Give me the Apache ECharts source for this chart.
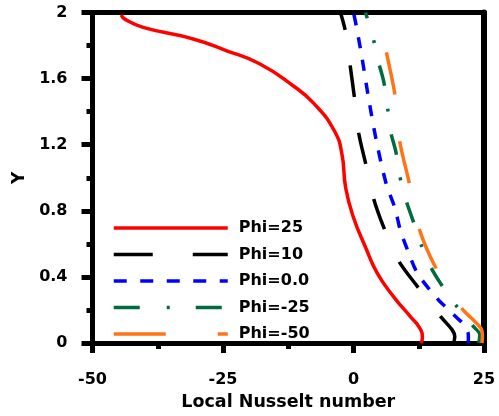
<!DOCTYPE html>
<html>
<head>
<meta charset="utf-8">
<script src="https://cdn.jsdelivr.net/npm/echarts@6/dist/echarts.min.js"></script>
<style>
  html, body { margin: 0; padding: 0; background: #ffffff; }
  #chart { width: 499px; height: 416px; }
</style>
</head>
<body>
<div id="chart"></div>
<script>
// Local Nusselt number profiles along Y, one curve per Phi
const seriesNames = ['Phi=25', 'Phi=10', 'Phi=0.0', 'Phi=-25', 'Phi=-50'];

// [Nusselt, Y] pairs, from the bottom wall (Y=0) up to Y=2
const phi25 = [[12.9,0],[13.2,0.03],[12.7,0.09],[10.9,0.16],[7.7,0.28],[4.6,0.42],[2.3,0.58],[0.0,0.76],[-1.5,0.94],[-2.2,1.14],[-3.6,1.28],[-7.6,1.45],[-11.7,1.56],[-18.0,1.69],[-24.4,1.77],[-30.7,1.84],[-40.3,1.91],[-43.8,1.96],[-44.5,1.985]];
const phi10 = [[19.2,0],[19.4,0.04],[18.9,0.08],[16.7,0.16],[14.3,0.26],[12.3,0.34],[8.6,0.50],[5.8,0.70],[3.8,0.88],[2.3,1.09],[1.0,1.27],[0.2,1.48],[-0.6,1.67],[-1.5,1.88],[-2.5,2.0]];
const phi0 = [[22.0,0],[22.0,0.05],[20.9,0.12],[19.9,0.15],[17.6,0.22],[16.3,0.26],[12.3,0.42],[10.4,0.56],[9.0,0.68],[7.9,0.82],[6.3,0.96],[4.4,1.22],[2.9,1.48],[1.5,1.75],[0.4,1.94],[0.0,2.0]];
const phiM25 = [[24.0,0],[24.2,0.05],[23.0,0.10],[19.6,0.23],[16.7,0.36],[14.8,0.46],[12.9,0.60],[11.3,0.75],[10.0,0.87],[8.8,1.02],[8.1,1.16],[7.1,1.28],[6.5,1.43],[5.8,1.58],[4.8,1.70],[3.8,1.84],[2.3,2.0]];
const phiM50 = [[24.6,0],[24.7,0.04],[24.4,0.09],[20.5,0.22],[15.7,0.46],[12.5,0.70],[10.6,0.98],[8.8,1.23],[7.9,1.51],[6.3,1.76],[4.8,2.0]];

const xTickLabels = ['-50', '-25', '0', '25'];
const yTickLabels = ['0', '0.4', '0.8', '1.2', '1.6', '2'];

const colors = ['#ff0000', '#000000', '#0000ff', '#006b3c', '#ff7417'];
const dashes = ['solid', [32, 36], [11, 12], [21, 23, 3, 23], [43, 47]];
const legendDashes = ['solid', [39, 40], [13, 13.5], [26, 27, 3, 26], [52, 52]];
const smoothness = [0.5, 0.3, 0.3, 0.3, 0.3];
const curves = [phi25, phi10, phi0, phiM25, phiM50];

const FONT = 'DejaVu Sans';

function tickText(list, v) {
  let best = list[0];
  list.forEach(t => { if (Math.abs(parseFloat(t) - v) < Math.abs(parseFloat(best) - v)) best = t; });
  return best;
}

const chart = echarts.init(document.getElementById('chart'), null, { renderer: 'canvas' });

const axisLabelStyle = { fontFamily: FONT, fontWeight: 'bold', fontSize: 16, color: '#000' };

chart.setOption({
  animation: false,
  backgroundColor: '#ffffff',
  grid: { left: 92.5, right: 15, top: 12.5, bottom: 69.5, containLabel: false },
  legend: {
    orient: 'vertical',
    left: 112,
    top: 220,
    padding: 0,
    itemWidth: 114,
    itemHeight: 14,
    itemGap: 10.5,
    textStyle: { fontFamily: FONT, fontWeight: 'bold', fontSize: 16, color: '#000', padding: [0, 0, 0, 6] },
    data: seriesNames.map((n, i) => ({
      name: n,
      itemStyle: { opacity: 0 },
      lineStyle: { type: legendDashes[i], width: 3.5, color: colors[i] }
    }))
  },
  xAxis: [{
    type: 'value', min: -50, max: 25, interval: 25,
    name: 'Local Nusselt number', nameLocation: 'middle', nameGap: 47,
    nameTextStyle: { fontFamily: FONT, fontWeight: 'bold', fontSize: 17.5, color: '#000' },
    axisLine: { onZero: false, lineStyle: { color: '#000', width: 5 } },
    axisTick: { length: 10, lineStyle: { color: '#000', width: 5 } },
    minorTick: { show: true, splitNumber: 2, length: 6, lineStyle: { color: '#000', width: 5 } },
    splitLine: { show: false },
    axisLabel: Object.assign({ margin: 29, formatter: v => tickText(xTickLabels, v) }, axisLabelStyle)
  }, {
    type: 'value', position: 'top', min: -50, max: 25,
    axisLine: { onZero: false, lineStyle: { color: '#000', width: 5 } },
    axisTick: { show: false }, axisLabel: { show: false }, splitLine: { show: false }
  }],
  yAxis: [{
    type: 'value', min: 0, max: 2, interval: 0.4,
    name: 'Y', nameLocation: 'middle', nameGap: 64,
    nameTextStyle: { fontFamily: FONT, fontWeight: 'bold', fontSize: 17, color: '#000' },
    axisLine: { onZero: false, lineStyle: { color: '#000', width: 5 } },
    axisTick: { length: 11, lineStyle: { color: '#000', width: 5 } },
    minorTick: { show: true, splitNumber: 2, length: 6, lineStyle: { color: '#000', width: 5 } },
    splitLine: { show: false },
    axisLabel: Object.assign({ margin: 25, formatter: v => tickText(yTickLabels, v) }, axisLabelStyle)
  }, {
    type: 'value', position: 'right', min: 0, max: 2,
    axisLine: { onZero: false, lineStyle: { color: '#000', width: 6 } },
    axisTick: { show: false }, axisLabel: { show: false }, splitLine: { show: false }
  }],
  series: curves.map((d, i) => ({
    name: seriesNames[i],
    type: 'line',
    data: d,
    symbol: 'none',
    smooth: smoothness[i],
    clip: false,
    itemStyle: { color: colors[i] },
    lineStyle: { color: colors[i], width: 3.5, type: dashes[i] }
  }))
});
</script>
</body>
</html>
